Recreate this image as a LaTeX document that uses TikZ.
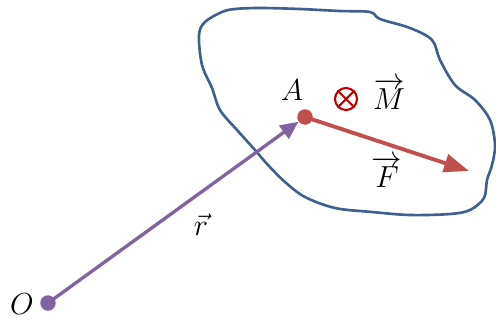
\documentclass[tikz,border=0pt]{standalone}
\usepackage{amsmath}
\usetikzlibrary{arrows.meta, positioning}
\definecolor{vecPurple}{HTML}{8064A2}
\definecolor{forceRed}{HTML}{C0504D}
\definecolor{bodyBlue}{HTML}{3E5F8F}
\definecolor{momentRed}{HTML}{C00000}
\tikzset{
  pointdot/.style={circle, inner sep=0pt, minimum size=0.31cm},
  arrowV/.style={-{Triangle[length=0.36cm, width=0.32cm]}, vecPurple, line width=1.9pt},
  arrowF/.style={-{Triangle[length=0.5cm, width=0.36cm]}, forceRed, line width=2.2pt},
  bodyline/.style={bodyBlue, line width=1.5pt},
  lbl/.style={font=\fontsize{19}{22}\selectfont, inner sep=1pt},
  momentsym/.style={circle, draw=momentRed, line width=1.2pt, minimum size=0.44cm, inner sep=0pt},
}

\begin{document}
\begin{tikzpicture}[x=0.02cm, y=-0.02cm]
  \useasboundingbox (0,0) rectangle (496,321);
  % body outline
  \draw[bodyline] plot[smooth cycle, tension=0.55] coordinates {
    (199,35) (205,22) (222,12) (235,9) (260,8) (300,9) (340,11) (370,12)
    (380,19) (410,28) (432,40) (440,60) (455,85) (475,100) (490,120)
    (495,145) (492,165) (487,180) (484,198) (470,210) (450,214) (410,215)
    (372,212) (335,208) (305,197) (285,182) (268,165) (255,150) (237,130)
    (220,110) (212,88) (202,65)};

  \node[pointdot, fill=vecPurple] (O) at (48,303) {};
  \node[pointdot, fill=forceRed] (A) at (305,117) {};
  \coordinate (Fend) at (469,171);

  \draw[arrowV] (O.center) -- (A);
  \draw[arrowF] (A.center) -- (Fend);

  \node[lbl] (Olbl) at (22,304) {$O$};
  \node[lbl] (Albl) at (292,90) {$A$};
  \node[lbl] (rlbl) at (201,225) {$\vec{r}$};
  \node[lbl] (Flbl) at (387,172) {$\overrightarrow{F}$};
  \node[lbl] (Mlbl) at (389,94) {$\overrightarrow{M}$};

  \node[momentsym] (mom) at (346,99) {};
  \draw[momentRed, line width=1.2pt] (mom.45) -- (mom.225) (mom.135) -- (mom.315);
\end{tikzpicture}
\end{document}
